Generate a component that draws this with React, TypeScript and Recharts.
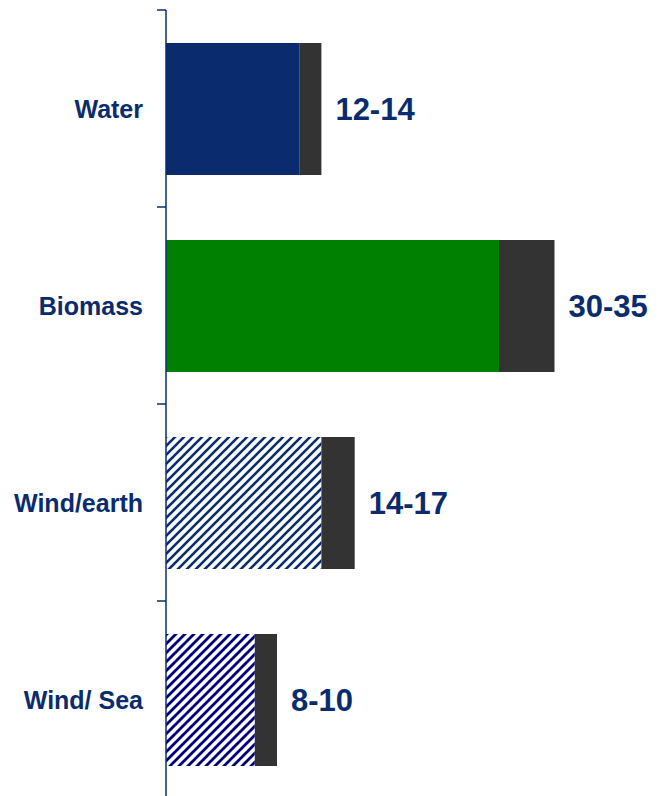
import React from 'react';
import { BarChart, Bar, XAxis, YAxis, Cell, LabelList } from 'recharts';

const categories = ['Water', 'Biomass', 'Wind/earth', 'Wind/ Sea'];
const lowValues = [12, 30, 14, 8];
const highValues = [14, 35, 17, 10];

const NAVY = '#0a2c6e';
const fills = [NAVY, '#008000', 'url(#stripeEarth)', 'url(#stripeSea)'];

const data = categories.map((name, i) => ({
  name,
  low: lowValues[i],
  extra: highValues[i] - lowValues[i],
  label: `${lowValues[i]}-${highValues[i]}`,
}));

const W = 663;
const H = 800;
const M = { top: 10, right: 53, bottom: 2, left: 0 };
const band = (H - M.top - M.bottom) / categories.length;
const AXIS_X = 166;

const CatTick = (props: any) => {
  const { y, payload } = props;
  return (
    <g>
      <line x1={AXIS_X - 9} x2={AXIS_X} y1={y - band / 2} y2={y - band / 2} stroke={NAVY} strokeWidth={1.5} />
      <text
        x={AXIS_X - 23}
        y={y}
        textAnchor="end"
        dominantBaseline="central"
        fill={NAVY}
        fontSize={25}
        fontWeight="bold"
        fontFamily="'Liberation Sans', Arial, sans-serif"
      >
        {payload.value}
      </text>
    </g>
  );
};

export default function App() {
  return (
    <div style={{ position: 'absolute', left: 0, top: 0, width: W, height: 796, overflow: 'hidden', background: '#fff' }}>
      <svg width={0} height={0} style={{ position: 'absolute' }}>
        <defs>
          <pattern id="stripeEarth" width={9} height={9} patternUnits="userSpaceOnUse">
            <rect width={9} height={9} fill="#fff" />
            <path d="M0,9 L9,0 M-1,1 L1,-1 M8,10 L10,8" stroke={NAVY} strokeWidth={2.6} />
          </pattern>
          <pattern id="stripeSea" width={9} height={9} patternUnits="userSpaceOnUse">
            <rect width={9} height={9} fill="#fff" />
            <path d="M0,9 L9,0 M-1,1 L1,-1 M8,10 L10,8" stroke="#000080" strokeWidth={2.8} />
          </pattern>
        </defs>
      </svg>
      <BarChart width={W} height={H} data={data} layout="vertical" margin={M} barSize={132}>
        <XAxis type="number" domain={[0, 40]} hide />
        <YAxis
          type="category"
          dataKey="name"
          width={AXIS_X}
          axisLine={{ stroke: NAVY, strokeWidth: 1.5 }}
          tickLine={false}
          tick={<CatTick />}
          interval={0}
        />
        <Bar dataKey="low" stackId="a" isAnimationActive={false}>
          {data.map((d, i) => (
            <Cell key={d.name} fill={fills[i]} />
          ))}
        </Bar>
        <Bar dataKey="extra" stackId="a" fill="#333333" isAnimationActive={false}>
          <LabelList
            dataKey="label"
            position="right"
            offset={14}
            fill={NAVY}
            fontSize={31}
            fontWeight="bold"
            fontFamily="'Liberation Sans', Arial, sans-serif"
          />
        </Bar>
      </BarChart>
    </div>
  );
}
